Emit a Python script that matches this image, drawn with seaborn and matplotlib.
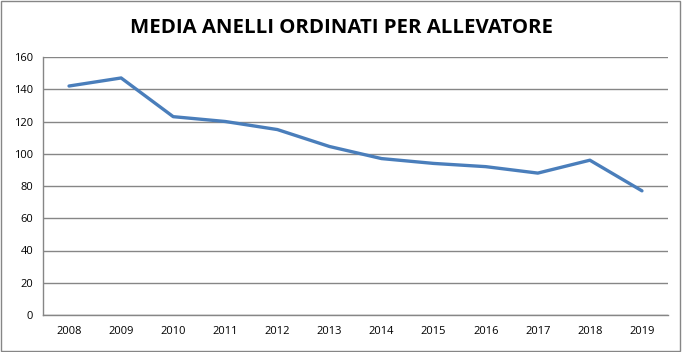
import matplotlib
matplotlib.use("Agg")
import matplotlib.pyplot as plt
import seaborn as sns
import pandas as pd
from matplotlib.patches import Rectangle

# ==========================
# Data
# ==========================
years = ['2008', '2009', '2010', '2011', '2012', '2013',
         '2014', '2015', '2016', '2017', '2018', '2019']
media_anelli = [142, 147, 123, 120, 115, 104.5, 97, 94, 92, 88, 96, 77]
y_ticks = [0, 20, 40, 60, 80, 100, 120, 140, 160]

df = pd.DataFrame({'anno': years, 'media': media_anelli})

# ==========================
# Plot
# ==========================
sns.set_style('white')
plt.rcParams['font.family'] = ['Open Sans', 'DejaVu Sans']

fig = plt.figure(figsize=(6.82, 3.52), dpi=100)
ax = fig.add_axes([43 / 682, 1 - 315 / 352, 625 / 682, 258 / 352])

sns.lineplot(data=df, x='anno', y='media', ax=ax, color='#4a7ebb', linewidth=2.4, sort=False)

grid_col = '#868686'
ax.set_ylim(0, 160)
ax.set_yticks(y_ticks)
ax.set_xlim(-0.5, len(years) - 0.5)
ax.set_xticks(range(len(years)))
ax.set_xticklabels(years)
ax.set_xticks([i - 0.5 for i in range(len(years) + 1)], minor=True)
ax.tick_params(axis='x', which='major', length=0, pad=8, labelsize=8, labelcolor='black')
ax.tick_params(axis='x', which='minor', length=4, color=grid_col, direction='out')
ax.tick_params(axis='y', length=4, color=grid_col, direction='out', labelsize=8, pad=3,
               labelcolor='black')
ax.yaxis.grid(True, color=grid_col, linewidth=1)
ax.set_axisbelow(True)
for s in ['top', 'right']:
    ax.spines[s].set_visible(False)
for s in ['left', 'bottom']:
    ax.spines[s].set_color(grid_col)
    ax.spines[s].set_linewidth(1)
ax.set_xlabel('')
ax.set_ylabel('')

fig.text(0.5, 1 - 28 / 352, 'MEDIA ANELLI ORDINATI PER ALLEVATORE',
         ha='center', va='center', fontsize=14.7, fontweight='bold', color='black')

# outer border of chart
fig.patches.append(Rectangle((0.002, 0.003), 0.995, 0.993, transform=fig.transFigure,
                             fill=False, edgecolor=grid_col, linewidth=1))

fig.savefig('out.png', dpi=100)
